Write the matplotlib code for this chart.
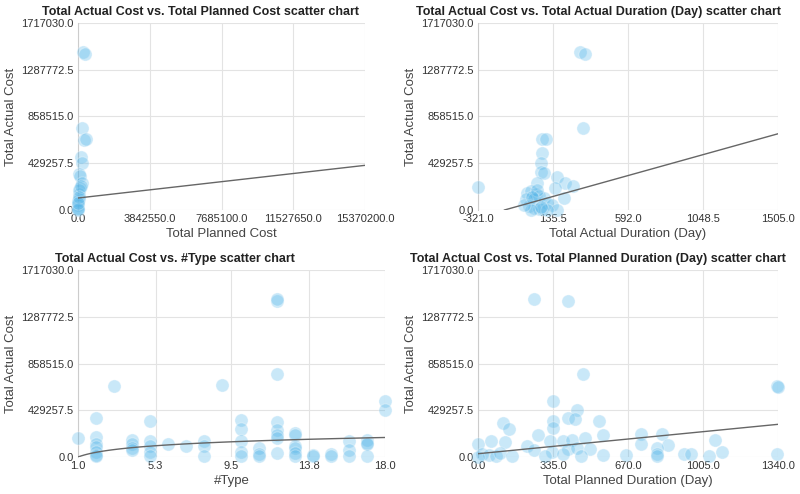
import numpy as np
import matplotlib
matplotlib.use("Agg")
import matplotlib.pyplot as plt

plt.rcParams['font.family'] = ['Liberation Sans Narrow', 'Liberation Sans', 'DejaVu Sans']

y_ticks = [0.0, 429257.5, 858515.0, 1287772.5, 1717030.0]

# panel 1: Total Planned Cost vs Total Actual Cost
p1_x = [250000, 400000, 200000, 300000, 450000, 150000, 230000, 50000, 100000, 200000,
        100000, 50000, 30000, 10000, 0, 20000, 60000, 0, 150000, 80000, 10000, 0]
p1_y = [1450000, 1430000, 750000, 640000, 650000, 490000, 430000, 330000, 310000, 250000,
        200000, 150000, 100000, 50000, 20000, 80000, 180000, 0, 220000, 120000, 10000, 60000]
p1_trend = [110000, 410000]
p1_xticks = [0.0, 3842550.0, 7685100.0, 11527650.0, 15370200.0]

# panel 2: Total Actual Duration vs Total Actual Cost
p2_x = [-321, 300, 330, 320, 70, 90, 70, 60, 60, 80, 160, 40, 210, 260, 150, -20, 0, 30, 50,
        -30, 20, 80, 100, 130, 200, -10, 20, 50, 70, 160, 0, 100, 40, -40, 60, 10]
p2_y = [210000, 1450000, 1430000, 750000, 650000, 650000, 520000, 430000, 350000, 340000,
        300000, 250000, 250000, 220000, 200000, 160000, 170000, 150000, 130000, 100000,
        100000, 110000, 60000, 50000, 110000, 40000, 20000, 10000, 5000, 0, 0, 0, 180000,
        50000, 30000, 120000]
p2_trend_x = [-160, 1505]
p2_trend_y = [0, 700000]
p2_xticks = [-321.0, 135.5, 592.0, 1048.5, 1505.0]

# panel 3: #Type vs Total Actual Cost
p3_x = [1, 2, 2, 2, 2, 2, 2, 2, 3, 4, 4, 4, 4, 5, 5, 5, 5, 5, 6, 7, 8, 8, 8, 9, 10, 10, 10,
        10, 10, 11, 11, 11, 12, 12, 12, 12, 12, 12, 12, 12, 13, 13, 13, 13, 13, 13, 14, 14,
        15, 15, 16, 16, 16, 17, 17, 17, 17, 18, 18]
p3_y = [170000, 360000, 180000, 120000, 90000, 50000, 20000, 10000, 650000, 160000, 120000,
        80000, 60000, 330000, 150000, 100000, 50000, 10000, 120000, 100000, 150000, 100000,
        10000, 660000, 340000, 260000, 150000, 50000, 10000, 80000, 30000, 10000, 1430000,
        1450000, 760000, 320000, 250000, 200000, 170000, 40000, 220000, 200000, 100000,
        80000, 40000, 10000, 20000, 10000, 30000, 10000, 150000, 60000, 10000, 160000,
        130000, 120000, 10000, 510000, 430000]
p3_log_coef = 62000
p3_xticks = [1.0, 5.3, 9.5, 13.8, 18.0]

# panel 4: Total Planned Duration vs Total Actual Cost
p4_x = [250, 400, 470, 1335, 1340, 335, 440, 400, 435, 335, 335, 540, 110, 140, 270, 560,
        730, 820, 1060, 0, 60, 120, 320, 380, 420, 480, 730, 850, 800, 1090, 220, 250, 330,
        400, 440, 500, 560, 660, 800, 800, 920, 950, 1030, 1335, 20, 50, 80, 100, 150, 300,
        380, 460, 0]
p4_y = [1450000, 1430000, 760000, 650000, 640000, 510000, 430000, 360000, 350000, 330000,
        270000, 330000, 310000, 260000, 200000, 200000, 210000, 210000, 160000, 120000,
        150000, 140000, 150000, 150000, 160000, 170000, 120000, 110000, 80000, 50000,
        100000, 60000, 50000, 70000, 80000, 70000, 20000, 20000, 30000, 10000, 30000,
        30000, 10000, 30000, 30000, 20000, 10000, 40000, 10000, 10000, 30000, 10000, 0]
p4_trend = [30000, 300000]
p4_xticks = [0.0, 335.0, 670.0, 1005.0, 1340.0]

W, H = 800, 494
fig = plt.figure(figsize=(8, 4.94), dpi=100)
boxes = [(78, 23, 365, 210), (478, 23, 778, 210), (78, 270, 385, 457), (478, 270, 778, 457)]
title_x = [200, 598, 175, 598]
axes = [fig.add_axes([l / W, 1 - b / H, (r - l) / W, (b - t) / H]) for l, t, r, b in boxes]

panels = [
    (axes[0], p1_x, p1_y, p1_xticks, "Total Planned Cost",
     "Total Actual Cost vs. Total Planned Cost scatter chart"),
    (axes[1], p2_x, p2_y, p2_xticks, "Total Actual Duration (Day)",
     "Total Actual Cost vs. Total Actual Duration (Day) scatter chart"),
    (axes[2], p3_x, p3_y, p3_xticks, "#Type",
     "Total Actual Cost vs. #Type scatter chart"),
    (axes[3], p4_x, p4_y, p4_xticks, "Total Planned Duration (Day)",
     "Total Actual Cost vs. Total Planned Duration (Day) scatter chart"),
]

for (l, t, r, b), tx_c, (ax, xs, ys, xt, xl, title) in zip(boxes, title_x, panels):
    ax.scatter(xs, ys, s=90, color="#4fb3e8", alpha=0.3, edgecolors="white", linewidths=0.8,
               zorder=3, clip_on=False)
    ax.set_xlim(xt[0], xt[-1])
    ax.set_ylim(0, y_ticks[-1])
    ax.set_xticks(xt)
    ax.set_xticklabels(["%.1f" % v for v in xt])
    ax.set_yticks(y_ticks)
    ax.set_yticklabels(["%.1f" % v for v in y_ticks])
    ax.grid(color="#e3e3e3", linewidth=0.8)
    ax.set_axisbelow(True)
    for s in ["top", "right", "bottom"]:
        ax.spines[s].set_visible(False)
    ax.spines["left"].set_color("#cccccc")
    ax.tick_params(length=0, labelsize=8, colors="#333333", pad=3)
    ax.set_xlabel(xl, fontsize=9.5, color="#444444", labelpad=3)
    ax.set_ylabel("Total Actual Cost", fontsize=9.5, color="#444444")
    ax.yaxis.set_label_coords(-61 / (r - l), 0.5)
    ax.set_title(title, fontsize=9, fontweight="bold", color="#222222", pad=6,
                 x=(tx_c - l) / (r - l))

line_kw = dict(color="#666666", linewidth=1.0, zorder=4)
axes[0].plot(p1_xticks[::4], p1_trend, **line_kw)
axes[1].plot(p2_trend_x, p2_trend_y, **line_kw)
tx = np.linspace(1, 18, 100)
axes[2].plot(tx, p3_log_coef * np.log(tx), **line_kw)
axes[3].plot(p4_xticks[::4], p4_trend, **line_kw)

fig.savefig("out.png", dpi=100)
